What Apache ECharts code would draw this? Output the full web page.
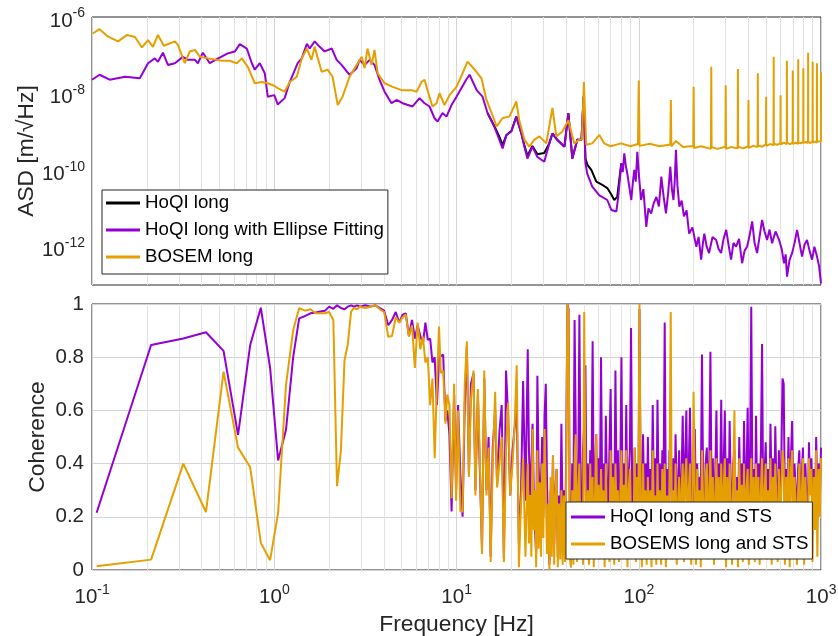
<!DOCTYPE html>
<html>
<head>
<meta charset="utf-8">
<title>ASD and coherence</title>
<script src="https://cdn.jsdelivr.net/npm/echarts@6/dist/echarts.min.js"></script>
<style>
  html, body { margin: 0; padding: 0; background: #fff; }
  #chart { width: 838px; height: 636px; }
</style>
</head>
<body>
<div id="chart"></div>
<script>
// ---------- ASD (top panel) ----------
const hoqiEllipseFreq = [
  0.1, 0.11, 0.125, 0.152, 0.183, 0.203, 0.221, 0.23, 0.245, 0.261,
  0.285, 0.315, 0.336, 0.367, 0.381, 0.406, 0.443, 0.484, 0.556, 0.608,
  0.647, 0.707, 0.753, 0.782, 0.833, 0.887, 0.921, 1.0, 1.045, 1.14,
  1.216, 1.345, 1.415, 1.51, 1.565, 1.667, 1.775, 1.89, 2.07, 2.2,
  2.34, 2.59, 2.83, 2.94, 3.13, 3.34, 3.55, 3.78, 4.03, 4.4,
  4.69, 5.06, 5.74, 6.27, 6.68, 7.11, 7.57, 7.87, 8.38, 8.81,
  9.39, 10, 11.3, 11.8, 12.9, 13.9, 14.8, 16.1, 17.2, 17.9,
  18.8, 20, 21.3, 22.7, 23.6, 24.5, 26.1, 27.8, 30.3, 32.3,
  33.6, 35.7, 39.1, 41.1, 43.2, 46, 48.5, 49.8, 51, 52.2,
  55.6, 60.8, 67.2, 70.7, 75.3, 77.2, 80.2, 81.7, 83.3, 85,
  86.5, 88.5, 91, 92.7, 94.5, 96.3, 98.2, 100.5, 103, 106,
  110, 113, 117, 121, 125, 129, 133, 137, 141, 145,
  149, 152, 155, 157.5, 160, 163, 167, 172, 177, 183,
  189, 197, 207, 213, 220, 225, 229, 236, 243, 254,
  266, 274, 283, 292, 302, 311, 321, 331, 342, 355,
  369, 381, 393, 406, 419, 432, 446, 460, 475, 490,
  506, 522, 539, 563, 589, 608, 627, 640, 651, 672,
  694, 716, 739, 762, 787, 812, 838, 865, 893, 920,
  951, 975, 1000
];
const hoqiEllipseAsd = [
  2.3e-8, 3.1e-8, 2.3e-8, 2.75e-8, 2.5e-8, 6.2e-8, 8.3e-8, 6.8e-8, 1.17e-7, 5.6e-8,
  6.2e-8, 9.1e-8, 7.6e-8, 7.6e-8, 6.2e-8, 1.17e-7, 6.2e-8, 7.9e-8, 1.12e-7, 1.26e-7,
  1.95e-7, 1.5e-7, 6.2e-8, 4.2e-8, 6.2e-8, 3.4e-8, 8.3e-9, 9.1e-9, 5.2e-9, 7.6e-9,
  2.0e-8, 6.2e-8, 8.3e-8, 2.0e-7, 1.5e-7, 2.3e-7, 1.66e-7, 1.26e-7, 1.5e-7, 7.6e-8,
  5.6e-8, 3.1e-8, 4.6e-8, 7.6e-8, 5.6e-8, 7.6e-8, 5.6e-8, 2.3e-8, 1.12e-8, 5.6e-9,
  6.8e-9, 5.6e-9, 4.6e-9, 7.6e-9, 5.6e-9, 4.6e-9, 2.3e-9, 1.86e-9, 3.1e-9, 2.5e-9,
  5.0e-9, 8.3e-9, 2.3e-8, 3.1e-8, 1.23e-8, 8.3e-9, 3.1e-9, 1.38e-9, 6.2e-10, 3.7e-10,
  8.3e-10, 1.02e-9, 2.5e-9, 9.1e-10, 4.1e-10, 2.0e-10, 4.1e-10, 2.2e-10, 1.66e-10, 5.0e-10,
  9.1e-10, 6.2e-10, 4.1e-10, 3.1e-9, 2.0e-10, 6.2e-10, 6.2e-10, 8.3e-9, 1.5e-10, 8.0e-11,
  3.7e-11, 2.2e-11, 1.66e-11, 9.1e-12, 8.3e-12, 2.0e-11, 1.5e-10, 8.9e-11, 2.75e-10, 1.26e-10,
  8.3e-11, 4.0e-11, 1.66e-11, 4.5e-11, 1.02e-10, 5.0e-11, 3.0e-10, 6.3e-11, 1.66e-11, 3.2e-11,
  3.3e-12, 1.0e-11, 7.4e-12, 1.4e-11, 2.0e-11, 1.12e-11, 6.8e-11, 2.0e-11, 7.4e-12, 2.5e-11,
  1.23e-10, 3.2e-11, 1.66e-11, 5.0e-11, 3.4e-10, 4.0e-11, 1.12e-11, 1.6e-11, 6.2e-12, 8.9e-12,
  2.2e-12, 3.2e-12, 1.0e-12, 1.8e-12, 4.6e-13, 1.26e-12, 2.2e-12, 1.0e-12, 6.8e-13, 1.8e-12,
  1.5e-12, 8.9e-13, 6.8e-13, 1.6e-12, 2.75e-12, 1.12e-12, 4.6e-13, 1.26e-12, 1.0e-12, 1.6e-12,
  3.7e-13, 7.9e-13, 1.0e-12, 2.0e-12, 4.6e-12, 1.26e-12, 6.8e-13, 1.8e-12, 5.0e-12, 2.5e-12,
  1.5e-12, 2.8e-12, 1.23e-12, 2.5e-12, 1.5e-12, 8.9e-13, 3.7e-13, 6.3e-13, 1.66e-13, 4.5e-13,
  6.8e-13, 1.26e-12, 2.75e-12, 1.26e-12, 5.5e-13, 1.12e-12, 1.5e-12, 7.9e-13, 4.6e-13, 1.0e-12,
  5.5e-13, 3.2e-13, 1.1e-13
];

// black trace only separates from the ellipse one between ~15 and 80 Hz
const hoqiFreq = [
  14.8, 16.1, 17.2, 17.9, 18.8, 20, 21.3, 22.7, 23.6, 24.5,
  26.1, 27.8, 30.3, 32.3, 33.6, 35.7, 39.1, 41.1, 43.2, 46,
  48.5, 49.8, 51, 52.2, 55, 58.5, 63.1, 67.2, 70.7, 73.4,
  76.2, 77.2, 80.2
];
const hoqiAsd = [
  3.1e-9, 1.45e-9, 7.4e-10, 4.5e-10, 8.3e-10, 1.05e-9, 2.5e-9, 9.1e-10, 4.3e-10, 2.4e-10,
  4.3e-10, 2.6e-10, 2.8e-10, 5.0e-10, 9.1e-10, 6.2e-10, 4.1e-10, 3.1e-9, 2.0e-10, 6.2e-10,
  6.2e-10, 8.3e-9, 2.0e-10, 1.4e-10, 1.0e-10, 5.0e-11, 4.1e-11, 3.4e-11, 2.3e-11, 1.66e-11,
  2.0e-11, 2.0e-11, 1.5e-10
];

const bosemFreq = [
  0.101, 0.11, 0.122, 0.139, 0.156, 0.172, 0.188, 0.203, 0.216, 0.23,
  0.248, 0.285, 0.296, 0.323, 0.344, 0.367, 0.391, 0.432, 0.516, 0.57,
  0.623, 0.664, 0.716, 0.782, 0.855, 0.921, 1.0, 1.045, 1.14, 1.216,
  1.33, 1.415, 1.51, 1.6, 1.667, 1.82, 1.96, 2.09, 2.23, 2.37,
  2.59, 2.76, 3.02, 3.13, 3.25, 3.42, 3.55, 3.69, 4.03, 4.46,
  5.0, 5.66, 6.04, 6.43, 6.68, 6.93, 7.38, 7.77, 8.07, 8.59,
  9.16, 10, 10.8, 11.5, 12.6, 13.7, 14.6, 15.6, 16.6, 17.9,
  19.5, 21.3, 22.1, 23.6, 25.1, 26.7, 28.5, 31.1, 33.6, 35.3,
  38.1, 41.1, 44.3, 47.2, 48.8, 50, 51.5, 55.6, 60.8, 64.7,
  70, 80, 90, 99, 100, 101, 115, 130, 149, 150,
  151, 160, 175, 199, 200, 201, 220, 249, 250, 251,
  270, 299, 300, 301, 320, 349, 350, 351, 375, 399,
  400, 401, 425, 449, 450, 451, 475, 499, 500, 501,
  525, 549, 550, 551, 575, 599, 600, 601, 625, 649,
  650, 651, 675, 699, 700, 701, 725, 749, 750, 751,
  775, 799, 800, 801, 825, 849, 850, 851, 875, 899,
  900, 901, 925, 949, 950, 951, 975, 999, 1000
];
const bosemAsd = [
  3.7e-7, 4.8e-7, 3.1e-7, 2.3e-7, 3.4e-7, 3.0e-7, 1.6e-7, 2.5e-7, 1.66e-7, 3.4e-7,
  1.78e-7, 2.3e-7, 1.86e-7, 6.2e-8, 1.26e-7, 1.38e-7, 9.1e-8, 8.3e-8, 7.2e-8, 7.2e-8,
  6.2e-8, 8.3e-8, 5.0e-8, 1.86e-8, 2.0e-8, 1.86e-8, 1.6e-8, 1.38e-8, 1.12e-8, 2.0e-8,
  2.75e-8, 8.3e-8, 1.5e-7, 7.6e-8, 1.66e-7, 3.7e-8, 4.2e-8, 2.75e-8, 5.0e-9, 8.3e-9,
  2.75e-8, 4.6e-8, 9.1e-8, 4.6e-8, 1.5e-7, 5.6e-8, 1.38e-7, 3.4e-8, 1.86e-8, 1.5e-8,
  1.23e-8, 1.23e-8, 1.12e-8, 2.0e-8, 2.3e-8, 1.23e-8, 4.6e-9, 5.6e-9, 1.02e-8, 5.0e-9,
  9.1e-9, 1.5e-8, 3.4e-8, 6.8e-8, 4.2e-8, 2.5e-8, 6.8e-9, 3.1e-9, 1.38e-9, 2.3e-9,
  2.5e-9, 6.2e-9, 2.0e-9, 6.2e-10, 4.1e-10, 6.2e-10, 7.6e-10, 5.0e-10, 4.2e-9, 7.6e-10,
  1.02e-9, 2.0e-9, 5.0e-10, 6.2e-10, 6.3e-10, 2.0e-8, 4.6e-10, 5.0e-10, 8.3e-10, 5.0e-10,
  4.2e-10, 5.0e-10, 4.2e-10, 4.8e-10, 2.2e-8, 4.3e-10, 4.9e-10, 4.2e-10, 4.7e-10, 6.8e-9,
  4.2e-10, 5.8e-10, 4.0e-10, 4.3e-10, 1.5e-8, 3.8e-10, 4.2e-10, 3.6e-10, 5.0e-8, 4.0e-10,
  3.6e-10, 4.1e-10, 1.66e-8, 3.6e-10, 4.0e-10, 3.7e-10, 4.4e-8, 4.1e-10, 3.7e-10, 4.2e-10,
  6.8e-9, 3.8e-10, 4.3e-10, 4.0e-10, 3.4e-8, 4.4e-10, 4.1e-10, 4.7e-10, 8.3e-9, 4.3e-10,
  4.8e-10, 4.5e-10, 9.1e-8, 4.9e-10, 4.6e-10, 5.1e-10, 9.1e-9, 4.7e-10, 5.2e-10, 4.8e-10,
  7.2e-8, 5.2e-10, 4.8e-10, 5.2e-10, 4.0e-8, 4.8e-10, 5.2e-10, 4.9e-10, 7.9e-8, 5.3e-10,
  5.0e-10, 5.5e-10, 4.6e-8, 5.1e-10, 5.5e-10, 5.1e-10, 1.17e-7, 5.5e-10, 5.1e-10, 5.6e-10,
  6.8e-8, 5.2e-10, 5.6e-10, 5.2e-10, 6.2e-8, 5.6e-10, 5.3e-10, 5.7e-10, 3.7e-8
];

// ---------- coherence (bottom panel) ----------
const cohFreq = [
  0.106, 0.211, 0.317, 0.422, 0.527, 0.633, 0.738, 0.844, 0.949, 1.05,
  1.16, 1.27, 1.37, 1.48, 1.58, 1.69, 1.79, 1.9, 2.0, 2.11,
  2.21, 2.32, 2.43, 2.53, 2.64, 2.74, 2.85, 2.95, 3.16, 3.38,
  3.59, 3.8, 4.01, 4.22, 4.43, 4.64, 4.85, 5.06, 5.27, 5.48,
  5.7, 5.91, 6.12, 6.33, 6.54, 6.75, 6.96, 7.17, 7.38, 7.59,
  7.81, 8.02,
  8.2, 8.45, 8.7, 8.9, 9.15, 9.4, 9.7, 9.95, 10.2, 10.5,
  10.8, 11.1, 11.4, 11.7, 12.0, 12.4, 12.7, 13.1, 13.4, 13.8,
  14.2, 14.6, 15.0, 15.4, 15.8, 16.3, 16.7, 17.2, 17.7, 18.2,
  18.7, 19.2, 19.7, 20.3, 20.8, 21.4, 22.0, 22.6, 23.2, 23.9,
  24.6, 24.98, 25.36, 25.75, 26.14, 26.54, 26.95, 27.36, 27.78, 28.2,
  28.63, 29.07, 29.51, 29.96, 30.42, 30.89, 31.36, 31.84, 32.33, 32.82,
  33.32, 33.83, 34.35, 34.88, 35.41, 35.95, 36.5, 37.06, 37.63, 38.2,
  38.79, 39.38, 39.98, 40.59, 41.21, 41.84, 42.48, 43.13, 43.79, 44.46,
  45.14, 45.83, 46.53, 47.24, 47.96, 48.7, 49.44, 50.2, 50.97, 51.75,
  52.54, 53.34, 54.16, 54.99, 55.83, 56.68, 57.55, 58.43, 59.32, 60.23,
  61.15, 62.09, 63.04, 64.0, 64.98, 65.97, 66.98, 68.01, 69.05, 70.1,
  71.17, 72.26, 73.37, 74.49, 75.63, 76.79, 77.96, 79.15, 80.36, 81.59,
  82.84, 84.11, 85.4, 86.7, 88.03, 89.38, 90.74, 92.13, 93.54, 94.97,
  96.42, 97.9, 99.4, 100.9, 102.5, 104.0, 105.6, 107.2, 108.9, 110.5,
  112.2, 113.9, 115.7, 117.5, 119.3, 121.1, 122.9, 124.8, 126.7, 128.7,
  130.6, 132.6, 134.7, 136.7, 138.8, 140.9, 143.1, 145.3, 147.5, 149.8,
  152.1, 154.4, 156.8, 159.2, 161.6, 164.1, 166.6, 169.1, 171.7, 174.3,
  177.0, 179.7, 182.5, 185.3, 188.1, 191.0, 193.9, 196.9, 199.9, 203.0,
  206.1, 209.2, 212.4, 215.7, 219.0, 222.3, 225.7, 229.2, 232.7, 236.3,
  239.9, 243.6, 247.3, 251.1, 254.9, 258.8, 262.8, 266.8, 270.9, 275.0,
  279.2, 283.5, 287.8, 292.2, 296.7, 301.2, 305.8, 310.5, 315.3, 320.1,
  325.0, 330.0, 335.0, 340.1, 345.3, 350.6, 356.0, 361.4, 366.9, 372.5,
  378.2, 384.0, 389.9, 395.9, 401.9, 408.1, 414.3, 420.6, 427.1, 433.6,
  440.2, 447.0, 453.8, 460.7, 467.8, 474.9, 482.2, 489.6, 497.1, 504.7,
  512.4, 520.2, 528.2, 536.3, 544.5, 552.8, 561.3, 569.9, 578.6, 587.4,
  596.4, 605.5, 614.8, 624.2, 633.8, 643.5, 653.3, 663.3, 673.5, 683.8,
  694.3, 704.9, 715.7, 726.7, 737.8, 749.1, 760.6, 772.2, 784.0, 796.0,
  808.2, 820.6, 833.1, 845.9, 858.8, 871.9, 885.3, 898.8, 912.6, 926.6,
  940.7, 955.1, 969.7, 984.6, 1000
];
const hoqiCoh = [
  0.215, 0.846, 0.87, 0.894, 0.824, 0.508, 0.846, 0.986, 0.76, 0.412,
  0.527, 0.80, 0.946, 0.955, 0.965, 0.968, 0.972, 0.975, 0.99, 0.982,
  0.995, 0.985, 0.98, 0.99, 0.995, 0.99, 0.995, 0.99, 0.995, 0.99,
  0.995, 0.985, 0.975, 0.92, 0.94, 0.97, 0.93, 0.96, 0.965, 0.88,
  0.94, 0.87, 0.92, 0.88, 0.85, 0.93, 0.865, 0.87, 0.78, 0.80,
  0.62, 0.80,
  0.80, 0.81, 0.56, 0.60, 0.51, 0.22, 0.66, 0.30, 0.62, 0.36,
  0.20, 0.62, 0.84, 0.36, 0.70, 0.74, 0.30, 0.66, 0.40, 0.08,
  0.72, 0.30, 0.50, 0.05, 0.46, 0.60, 0.32, 0.52, 0.62, 0.04,
  0.75, 0.58, 0.28, 0.45, 0.53, 0.60, 0.10, 0.30, 0.71, 0.26,
  0.83, 0.45, 0.28, 0.40, 0.55, 0.30, 0.15, 0.06, 0.73, 0.40,
  0.25, 0.33, 0.50, 0.20, 0.58, 0.70, 0.35, 0.12, 0.02, 0.30,
  0.15, 0.43, 0.10, 0.30, 0.38, 0.05, 0.28, 0.12, 0.55, 0.20,
  0.30, 0.08, 0.45, 1.0, 0.98, 0.20, 0.01, 0.40, 0.25, 0.94,
  0.51, 0.15, 0.35, 0.96, 0.30, 0.10, 0.45, 0.55, 0.77, 0.20,
  0.40, 0.18, 0.45, 0.30, 0.86, 0.22, 0.35, 0.51, 0.20, 0.42,
  0.25, 0.80, 0.28, 0.40, 0.15, 0.58, 0.30, 0.22, 0.45, 0.68,
  0.20, 0.40, 0.18, 0.75, 0.25, 0.45, 0.15, 0.35, 0.80, 0.22,
  0.40, 0.20, 0.62, 0.18, 0.35, 0.45, 0.91, 0.25, 0.15, 0.46,
  0.22, 0.40, 0.18, 0.98, 0.30, 0.20, 0.51, 0.25, 0.40, 0.15,
  0.50, 0.22, 0.38, 0.18, 0.62, 0.28, 0.42, 0.15, 0.64, 0.25,
  0.40, 0.20, 0.45, 0.30, 0.93, 0.22, 0.38, 0.18, 0.45, 0.40,
  0.22, 0.42, 0.18, 0.51, 0.30, 0.25, 0.45, 0.15, 0.35, 0.58,
  0.25, 0.40, 0.60, 0.20, 0.38, 0.61, 0.25, 0.18, 0.42, 0.53,
  0.22, 0.40, 0.18, 0.35, 0.28, 0.81, 0.30, 0.15, 0.40, 0.46,
  0.22, 0.38, 0.82, 0.25, 0.42, 0.18, 0.35, 0.60, 0.20, 0.40,
  0.28, 0.64, 0.20, 0.38, 0.60, 0.25, 0.42, 0.18, 0.56, 0.30,
  0.20, 0.40, 0.45, 0.25, 0.35, 0.15, 0.50, 0.25, 0.40, 0.20,
  0.56, 0.25, 0.35, 0.61, 0.20, 0.40, 0.99, 0.28, 0.38, 0.18,
  0.58, 0.22, 0.40, 0.28, 0.45, 0.85, 0.20, 0.35, 0.48, 0.25,
  0.38, 0.20, 0.55, 0.28, 0.42, 0.18, 0.54, 0.30, 0.22, 0.45,
  0.25, 0.40, 0.72, 0.70, 0.22, 0.38, 0.28, 0.50, 0.20, 0.42,
  0.56, 0.25, 0.40, 0.30, 0.20, 0.38, 0.45, 0.25, 0.35, 0.46,
  0.22, 0.40, 0.28, 0.18, 0.48, 0.30, 0.42, 0.25, 0.38, 0.20,
  0.50, 0.28, 0.40, 0.25, 0.46
];
const bosemCoh = [
  0.014, 0.039, 0.40, 0.218, 0.746, 0.46, 0.386, 0.102, 0.037, 0.215,
  0.696, 0.902, 0.984, 0.975, 0.98, 0.965, 0.965, 0.965, 0.97, 0.94,
  0.315, 0.446, 0.79, 0.846, 0.971, 0.985, 0.98, 0.99, 0.985, 0.99,
  0.995, 0.98, 0.97, 0.877, 0.88, 0.95, 0.93, 0.95, 0.96, 0.877,
  0.92, 0.76, 0.93, 0.83, 0.877, 0.78, 0.80, 0.62, 0.72, 0.42,
  0.70, 0.915,
  0.74, 0.75, 0.55, 0.66, 0.62, 0.27, 0.70, 0.26, 0.60, 0.22,
  0.22, 0.70, 0.86, 0.35, 0.64, 0.75, 0.28, 0.68, 0.45, 0.06,
  0.75, 0.28, 0.46, 0.03, 0.40, 0.67, 0.31, 0.40, 0.50, 0.03,
  0.45, 0.63, 0.28, 0.40, 0.53, 0.77, 0.01, 0.25, 0.42, 0.05,
  0.40, 0.10, 0.28, 0.05, 0.53, 0.15, 0.30, 0.01, 0.45, 0.08,
  0.33, 0.05, 0.40, 0.12, 0.53, 0.30, 0.06, 0.25, 0.00, 0.35,
  0.05, 0.43, 0.02, 0.28, 0.38, 0.01, 0.25, 0.04, 0.30, 0.02,
  0.28, 0.03, 0.35, 1.0, 0.97, 0.05, 0.01, 0.30, 0.02, 0.40,
  0.51, 0.03, 0.30, 0.40, 0.05, 0.25, 0.02, 0.97, 0.35, 0.04,
  0.30, 0.02, 0.40, 0.15, 0.35, 0.01, 0.28, 0.51, 0.08, 0.32,
  0.04, 0.38, 0.20, 0.30, 0.01, 0.40, 0.12, 0.25, 0.03, 0.45,
  0.10, 0.35, 0.02, 0.40, 0.18, 0.30, 0.03, 0.28, 0.45, 0.06,
  0.32, 0.15, 0.45, 0.01, 0.30, 0.38, 0.05, 0.25, 0.12, 0.46,
  0.03, 0.35, 0.15, 1.0, 0.25, 0.01, 0.40, 0.18, 0.30, 0.02,
  0.35, 0.10, 0.30, 0.01, 0.45, 0.20, 0.28, 0.02, 0.40, 0.12,
  0.30, 0.02, 0.38, 0.18, 0.40, 0.01, 0.28, 0.10, 0.35, 0.97,
  0.04, 0.30, 0.15, 0.40, 0.02, 0.25, 0.35, 0.08, 0.30, 0.40,
  0.03, 0.35, 0.42, 0.12, 0.30, 0.40, 0.02, 0.20, 0.67, 0.30,
  0.02, 0.38, 0.15, 0.30, 0.01, 0.45, 0.25, 0.10, 0.35, 0.40,
  0.04, 0.30, 0.45, 0.12, 0.35, 0.02, 0.28, 0.42, 0.15, 0.35,
  0.05, 0.40, 0.18, 0.30, 0.42, 0.01, 0.35, 0.12, 0.40, 0.25,
  0.02, 0.35, 0.60, 0.15, 0.30, 0.01, 0.42, 0.20, 0.32, 0.03,
  0.40, 0.10, 0.30, 0.38, 0.02, 0.28, 0.42, 0.15, 0.35, 0.03,
  0.40, 0.12, 0.35, 0.02, 0.30, 0.42, 0.18, 0.28, 0.40, 0.04,
  0.30, 0.15, 0.42, 0.02, 0.35, 0.20, 0.40, 0.25, 0.03, 0.38,
  0.12, 0.30, 0.45, 0.40, 0.02, 0.35, 0.18, 0.42, 0.01, 0.38,
  0.45, 0.10, 0.35, 0.25, 0.02, 0.30, 0.40, 0.15, 0.28, 0.42,
  0.02, 0.35, 0.20, 0.10, 0.42, 0.28, 0.38, 0.03, 0.35, 0.15,
  0.45, 0.05, 0.38, 0.20, 0.42
];

const FONT = '"Liberation Sans", Arial, Helvetica, sans-serif';
const TXT = '#262626';
const PURPLE = '#9400d3';
const ORANGE = '#e69f00';

function pairs(xs, ys) {
  return xs.map((x, i) => [x, ys[i]]);
}

// matlab style log grid (1..9 x 10^n), drawn as mark lines
function logLines(lo, hi, key) {
  const out = [];
  for (let n = lo; n < hi; n++) {
    for (let k = 1; k <= 9; k++) {
      out.push({ [key]: k * Math.pow(10, n), lineStyle: { color: k === 1 ? '#d4d4d4' : '#e3e3e3' } });
    }
  }
  out.push({ [key]: Math.pow(10, hi), lineStyle: { color: '#d4d4d4' } });
  return out;
}

// "10" with a raised exponent; g is a spacer that fixes the line box height
const pow10Rich = {
  g: { fontSize: 1, lineHeight: 25, verticalAlign: 'middle' },
  b: { fontSize: 20.5, fontFamily: FONT, color: TXT, lineHeight: 21, verticalAlign: 'bottom' },
  s: { fontSize: 14, fontFamily: FONT, color: TXT, lineHeight: 14, verticalAlign: 'top' }
};
const pow10 = e => '{g| }{b|10}{s|' + e + '}';
const nameStyle = { fontSize: 22.8, fontFamily: FONT, color: TXT };
const legendText = { fontSize: 18.7, fontFamily: FONT, color: '#000', lineHeight: 22 };

const gridMark = data => ({
  silent: true, z: 1, symbol: ['none', 'none'], label: { show: false },
  lineStyle: { type: 'solid', width: 1 }, data: data
});

const option = {
  animation: false,
  backgroundColor: '#fff',
  grid: [
    { left: 92, top: 17, width: 729, height: 268, show: true, borderColor: TXT, borderWidth: 1,
      backgroundColor: 'transparent', outerBoundsMode: 'none', containLabel: false },
    { left: 92, top: 304, width: 729, height: 266, show: true, borderColor: TXT, borderWidth: 1,
      backgroundColor: 'transparent', outerBoundsMode: 'none', containLabel: false }
  ],
  xAxis: [
    {
      type: 'log', gridIndex: 0, min: 0.1, max: 1000,
      axisLine: { show: false }, axisTick: { show: false },
      axisLabel: { show: false }, splitLine: { show: false }
    },
    {
      type: 'log', gridIndex: 1, min: 0.1, max: 1000,
      axisLine: { show: false }, axisTick: { show: false }, splitLine: { show: false },
      axisLabel: {
        margin: 13,
        formatter: v => pow10(Math.round(Math.log10(v))),
        rich: pow10Rich
      },
      name: 'Frequency [Hz]', nameLocation: 'middle', nameGap: 43, nameMoveOverlap: false,
      nameTextStyle: nameStyle
    }
  ],
  yAxis: [
    {
      type: 'log', gridIndex: 0, min: 1e-13, max: 1e-6,
      axisLine: { show: false }, axisTick: { show: false }, splitLine: { show: false },
      axisLabel: {
        margin: 7,
        padding: [4, 0, 0, 0],
        formatter: v => {
          const e = Math.round(Math.log10(v));
          return e % 2 === 0 ? pow10(e) : '';
        },
        rich: pow10Rich
      },
      name: 'ASD [m/\u221AHz]', nameLocation: 'middle', nameGap: 54, nameMoveOverlap: false,
      nameTextStyle: nameStyle
    },
    {
      type: 'value', gridIndex: 1, min: 0, max: 1, interval: 0.2,
      axisLine: { show: false }, axisTick: { show: false },
      splitLine: { show: true, lineStyle: { color: '#d4d4d4' } },
      axisLabel: { margin: 8, fontSize: 20.5, fontFamily: FONT, color: TXT },
      name: 'Coherence', nameLocation: 'middle', nameGap: 43, nameMoveOverlap: false,
      nameTextStyle: nameStyle
    }
  ],
  legend: [
    {
      data: ['HoQI long', 'HoQI long with Ellipse Fitting', 'BOSEM long'],
      left: 102, top: 190, orient: 'vertical', icon: 'rect', z: 20,
      itemWidth: 34, itemHeight: 3, itemGap: 5, padding: [2, 4, 6, 4],
      borderColor: TXT, borderWidth: 1, borderRadius: 0, backgroundColor: '#fff',
      selectedMode: false, textStyle: legendText
    },
    {
      data: ['HoQI long and STS', 'BOSEMS long and STS'],
      left: 566, top: 502, orient: 'vertical', icon: 'rect', z: 20,
      itemWidth: 34, itemHeight: 3, itemGap: 5, padding: [4, 4, 4, 5],
      borderColor: TXT, borderWidth: 1, borderRadius: 0, backgroundColor: '#fff',
      selectedMode: false, textStyle: legendText
    }
  ],
  series: [
    {
      name: 'gridTop', type: 'line', xAxisIndex: 0, yAxisIndex: 0, data: [], silent: true, z: 1,
      markLine: gridMark(logLines(-1, 3, 'xAxis').concat(logLines(-13, -6, 'yAxis')))
    },
    {
      name: 'gridBottom', type: 'line', xAxisIndex: 1, yAxisIndex: 1, data: [], silent: true, z: 1,
      markLine: gridMark(logLines(-1, 3, 'xAxis'))
    },
    {
      name: 'HoQI long', type: 'line', xAxisIndex: 0, yAxisIndex: 0,
      data: pairs(hoqiFreq, hoqiAsd), showSymbol: false,
      lineStyle: { color: '#000', width: 2 }, itemStyle: { color: '#000' }
    },
    {
      name: 'HoQI long with Ellipse Fitting', type: 'line', xAxisIndex: 0, yAxisIndex: 0,
      data: pairs(hoqiEllipseFreq, hoqiEllipseAsd), showSymbol: false,
      lineStyle: { color: PURPLE, width: 2 }, itemStyle: { color: PURPLE }
    },
    {
      name: 'BOSEM long', type: 'line', xAxisIndex: 0, yAxisIndex: 0,
      data: pairs(bosemFreq, bosemAsd), showSymbol: false,
      lineStyle: { color: ORANGE, width: 2 }, itemStyle: { color: ORANGE }
    },
    {
      name: 'HoQI long and STS', type: 'line', xAxisIndex: 1, yAxisIndex: 1,
      data: pairs(cohFreq, hoqiCoh), showSymbol: false,
      lineStyle: { color: PURPLE, width: 2 }, itemStyle: { color: PURPLE }
    },
    {
      name: 'BOSEMS long and STS', type: 'line', xAxisIndex: 1, yAxisIndex: 1,
      data: pairs(cohFreq, bosemCoh), showSymbol: false,
      lineStyle: { color: ORANGE, width: 2 }, itemStyle: { color: ORANGE }
    }
  ]
};

const chart = echarts.init(document.getElementById('chart'));
chart.setOption(option);
</script>
</body>
</html>
